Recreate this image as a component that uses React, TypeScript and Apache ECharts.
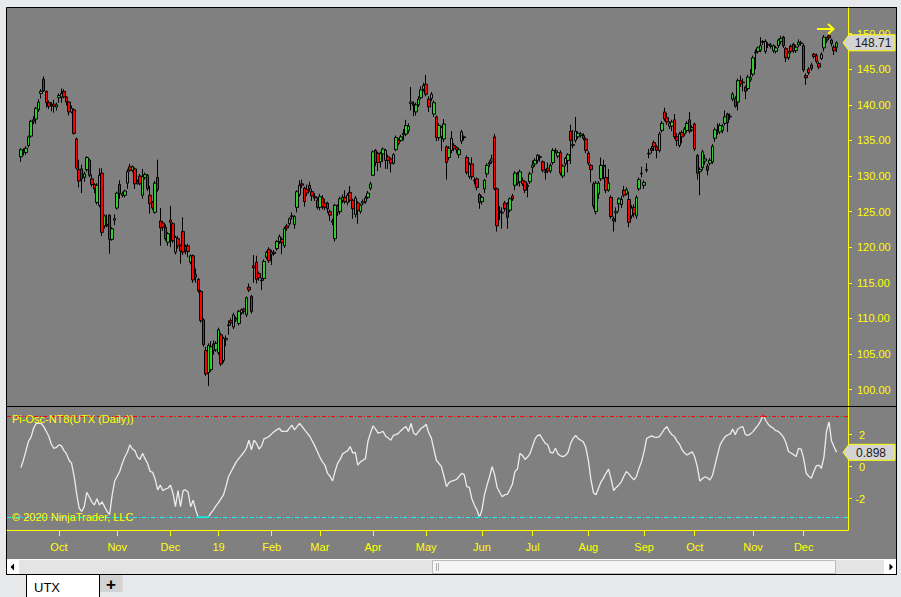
import React, { useEffect, useRef } from 'react';
import * as echarts from 'echarts';

const YELLOW = '#ffff00';
const FONT = 'Liberation Sans, Arial, sans-serif';

const HOLIDAYS = ['2018-11-22', '2018-12-05', '2018-12-25', '2019-01-01', '2019-01-21', '2019-02-18', '2019-04-19', '2019-05-27', '2019-07-04', '2019-09-02', '2019-11-28'];
const FIRST_DAY = '2018-09-10';
const LAST_DAY = '2019-12-19';
const MONTH_NAMES = ['Jan', 'Feb', 'Mar', 'Apr', 'May', 'Jun', 'Jul', 'Aug', 'Sep', 'Oct', 'Nov', 'Dec'];
const PRICE_TICKS = [100, 105, 110, 115, 120, 125, 130, 135, 140, 145, 150];
const OSC_TICKS = [-2, 0, 2];
const PI_LEVEL = 3.14159;
const INSTRUMENT = 'UTX';
const OSC_TITLE = 'Pi-Osc-NT8(UTX (Daily))';
const COPYRIGHT = '© 2020 NinjaTrader, LLC';

// candles: [open, close, low, high]
const sep2018 = [
  [132.7, 133.7, 132.0, 133.9], [133.5, 133.3, 132.9, 133.9], [133.3, 133.9, 133.0, 134.2], [134.3, 135.5, 134.0, 135.7],
  [135.6, 137.7, 135.4, 137.9], [137.7, 137.9, 137.3, 138.4], [138.0, 139.5, 137.3, 139.7], [139.3, 140.4, 139.0, 140.8],
  [141.6, 141.9, 140.9, 142.2], [143.6, 142.0, 141.8, 144.0], [141.9, 140.3, 139.6, 142.0], [140.3, 139.8, 139.4, 140.6],
  [139.9, 140.0, 139.1, 140.4], [140.1, 139.8, 138.9, 140.7], [139.7, 140.0, 139.2, 140.3],
];
const oct2018 = [
  [141.0, 141.3, 140.3, 141.6], [141.1, 141.6, 140.3, 142.3], [141.9, 141.1, 140.9, 142.2], [141.1, 140.4, 139.9, 141.2],
  [140.4, 139.0, 138.5, 140.5], [139.0, 139.5, 138.8, 139.9], [139.3, 136.0, 135.8, 139.5], [135.2, 131.1, 130.9, 135.4],
  [130.9, 129.3, 128.4, 132.3], [131.0, 129.6, 127.6, 131.6], [129.8, 130.3, 129.2, 130.6], [130.9, 132.6, 130.6, 132.8],
  [132.2, 130.1, 129.8, 132.4], [129.6, 128.8, 128.5, 130.2], [128.8, 128.2, 127.6, 129.0], [126.3, 128.7, 126.0, 129.0],
  [125.9, 130.1, 125.6, 131.1], [130.4, 122.1, 121.6, 131.1], [123.0, 124.4, 122.6, 124.6], [123.2, 123.0, 122.8, 124.6],
  [124.5, 121.1, 119.1, 124.6], [121.1, 122.6, 120.9, 122.8], [123.8, 124.0, 123.1, 124.6],
];
const nov2018 = [
  [125.5, 127.6, 125.3, 127.8], [128.8, 127.5, 126.8, 129.4], [127.3, 127.5, 127.0, 127.8], [127.3, 127.9, 127.0, 128.1],
  [129.0, 130.6, 128.2, 131.0], [131.3, 130.8, 130.6, 131.7], [130.8, 131.3, 130.5, 131.5], [131.0, 128.9, 128.2, 131.2],
  [129.0, 129.2, 128.8, 129.5], [130.0, 128.9, 128.7, 130.3], [127.3, 129.9, 126.8, 131.0], [129.8, 130.2, 129.5, 130.5],
  [130.1, 128.2, 127.9, 130.3], [127.3, 126.1, 124.7, 128.6], [126.3, 125.5, 125.2, 126.5], [124.9, 129.0, 124.7, 129.3],
  [129.8, 128.1, 127.8, 132.3], [123.7, 122.7, 120.2, 125.5], [123.4, 122.8, 122.3, 123.7], [122.8, 121.2, 120.9, 123.2],
  [120.7, 121.9, 120.2, 122.1],
];
const dec2018 = [
  [123.8, 123.5, 120.0, 125.8], [123.3, 120.9, 120.6, 123.5], [119.3, 121.4, 119.0, 121.6], [121.2, 120.2, 119.8, 121.6],
  [120.2, 119.5, 117.7, 120.4], [122.2, 119.3, 118.9, 124.2], [120.1, 119.6, 119.0, 120.4], [120.2, 119.4, 118.6, 120.5],
  [117.9, 118.8, 117.6, 119.0], [118.8, 115.4, 115.0, 119.0], [116.2, 115.8, 115.0, 117.0], [115.5, 113.9, 113.6, 115.7],
  [113.8, 109.7, 109.4, 114.0], [109.8, 106.3, 106.0, 110.0], [105.5, 102.2, 101.9, 106.0], [102.4, 106.2, 100.5, 106.5],
  [102.8, 106.0, 102.5, 106.8], [106.4, 105.5, 104.9, 106.9], [105.6, 106.5, 105.3, 106.8],
];
const jan2019 = [
  [105.2, 108.4, 104.9, 108.7], [107.7, 103.6, 103.3, 108.0], [104.1, 107.2, 103.8, 107.4], [107.0, 107.2, 106.1, 107.6],
  [109.0, 109.1, 107.7, 109.7], [109.7, 109.4, 109.0, 110.0], [108.8, 110.5, 108.5, 110.8], [109.8, 110.0, 109.5, 110.3],
  [109.3, 111.0, 109.0, 111.2], [110.8, 111.2, 110.5, 111.4], [111.3, 111.0, 110.6, 111.5], [110.5, 112.9, 110.2, 113.1],
  [114.4, 114.0, 113.7, 114.9], [113.1, 111.0, 110.7, 113.3], [117.4, 117.1, 115.0, 118.9], [117.9, 115.5, 114.9, 118.8],
  [116.3, 115.7, 115.3, 116.6], [115.4, 115.3, 114.0, 115.7], [115.6, 118.0, 115.3, 118.3], [118.6, 119.3, 118.3, 119.5],
  [119.7, 118.1, 117.8, 120.0],
];
const feb2019 = [
  [119.0, 119.3, 117.5, 119.6], [119.3, 119.1, 118.8, 119.6], [119.8, 120.8, 119.5, 121.0], [120.8, 121.5, 120.5, 121.8],
  [121.1, 120.6, 119.0, 121.4], [120.2, 122.6, 119.9, 122.9], [123.0, 122.7, 122.3, 123.3], [123.3, 124.0, 123.0, 124.2],
  [124.3, 124.4, 123.9, 124.9], [123.2, 124.3, 122.6, 124.5], [125.6, 127.8, 124.9, 128.0], [127.4, 128.7, 127.1, 129.4],
  [128.9, 128.7, 128.3, 129.5], [128.3, 126.4, 125.7, 128.5], [128.1, 127.6, 127.2, 128.8], [128.7, 128.2, 127.8, 129.2],
  [127.8, 127.2, 126.5, 128.2], [127.1, 126.9, 126.5, 127.6], [126.6, 125.6, 125.3, 127.0],
];
const mar2019 = [
  [125.6, 127.1, 125.2, 127.5], [126.9, 125.7, 125.3, 127.3], [126.2, 125.6, 125.2, 126.8], [126.2, 125.4, 124.8, 126.4],
  [125.0, 124.5, 123.7, 125.3], [123.7, 123.5, 123.1, 124.0], [121.2, 125.9, 120.8, 126.1], [125.8, 124.9, 124.4, 126.0],
  [125.0, 126.8, 124.6, 127.1], [126.6, 127.0, 126.2, 127.4], [127.0, 126.4, 126.1, 128.0], [126.3, 127.3, 125.9, 127.6],
  [127.7, 126.6, 126.3, 128.6], [126.6, 125.4, 124.0, 126.8], [124.6, 126.9, 124.2, 127.2], [126.2, 125.2, 123.3, 126.5],
  [125.0, 125.9, 124.7, 126.1], [126.2, 126.4, 125.9, 126.7], [126.4, 126.9, 126.1, 127.2], [127.0, 127.6, 126.8, 127.9],
  [128.3, 128.9, 128.0, 129.2],
];
const apr2019 = [
  [130.1, 133.4, 130.0, 133.6], [133.6, 131.9, 131.4, 133.8], [133.2, 131.9, 130.7, 133.4], [132.0, 133.2, 131.2, 133.4],
  [133.1, 133.8, 132.0, 134.0], [132.2, 133.6, 131.0, 133.8], [132.7, 132.2, 131.0, 133.0], [132.4, 131.8, 130.5, 132.6],
  [131.8, 133.0, 131.6, 133.2], [133.7, 135.4, 133.5, 135.7], [135.1, 134.6, 134.3, 135.3], [135.0, 135.5, 134.8, 135.8],
  [135.8, 136.0, 135.0, 136.6], [135.9, 137.1, 135.6, 137.9], [136.4, 137.0, 136.0, 137.4], [140.2, 140.4, 139.2, 142.5],
  [140.1, 139.9, 138.4, 140.5], [139.0, 140.0, 138.5, 140.3], [140.0, 140.8, 139.7, 141.2], [141.0, 142.1, 140.8, 142.6],
  [142.2, 142.7, 141.9, 143.1],
];
const may2019 = [
  [142.9, 141.5, 141.2, 144.2], [140.8, 139.7, 139.0, 141.2], [140.9, 141.5, 140.5, 141.8], [138.7, 140.3, 138.3, 140.6],
  [138.3, 135.4, 134.9, 138.5], [135.4, 137.1, 135.0, 137.4], [135.6, 136.8, 133.5, 137.0], [135.2, 137.3, 134.8, 138.0],
  [134.1, 131.9, 129.5, 134.3], [132.6, 133.9, 132.2, 134.2], [133.6, 135.3, 133.2, 136.3], [134.3, 133.9, 133.5, 134.6],
  [134.0, 133.7, 133.2, 134.2], [133.0, 133.7, 132.5, 134.0], [134.9, 136.2, 134.5, 136.5], [135.5, 135.4, 135.0, 135.7],
  [132.6, 130.5, 130.2, 132.9], [129.9, 131.6, 129.6, 131.9], [131.7, 129.9, 129.5, 132.6], [129.4, 129.3, 128.8, 129.8],
  [129.6, 128.4, 128.0, 129.8], [127.4, 126.3, 125.4, 127.6],
];
const jun2019 = [
  [126.4, 127.0, 126.0, 127.3], [128.2, 129.4, 127.6, 129.6], [130.3, 131.5, 129.8, 131.8], [131.7, 131.9, 131.3, 132.2],
  [132.1, 132.4, 131.7, 133.0], [135.5, 128.2, 128.0, 135.9], [128.2, 123.0, 122.2, 128.4], [125.0, 125.1, 123.8, 125.8],
  [124.9, 124.8, 122.6, 125.6], [126.2, 125.4, 125.0, 126.5], [126.1, 124.2, 122.6, 126.3], [125.2, 126.8, 124.9, 127.0],
  [127.2, 126.8, 126.5, 127.5], [128.7, 130.4, 128.0, 130.7], [130.3, 129.0, 128.7, 130.6], [129.2, 130.6, 128.5, 130.9],
  [129.4, 128.9, 128.6, 129.8], [129.2, 128.0, 127.6, 129.4], [128.5, 128.7, 127.0, 129.0], [129.2, 130.3, 128.9, 130.6],
];
const jul2019 = [
  [131.2, 131.5, 130.4, 132.2], [131.7, 132.2, 131.3, 132.5], [132.2, 132.9, 131.8, 133.1], [132.7, 132.6, 132.0, 133.0],
  [132.0, 130.8, 130.5, 132.2], [130.6, 130.5, 129.5, 131.0], [131.1, 130.7, 130.4, 131.9], [130.7, 131.5, 130.4, 131.8],
  [131.9, 133.6, 131.6, 133.9], [133.6, 133.5, 133.2, 133.9], [132.8, 133.3, 132.5, 133.6], [133.3, 130.4, 130.1, 133.6],
  [130.0, 131.4, 129.7, 131.6], [131.7, 132.5, 131.4, 132.7], [132.2, 133.0, 130.5, 133.2], [136.3, 135.0, 131.7, 137.2],
  [134.4, 134.3, 133.9, 136.5], [135.0, 136.3, 134.7, 138.3], [135.5, 136.0, 135.2, 136.3], [135.7, 135.9, 135.4, 136.2],
  [135.7, 135.3, 135.0, 136.0], [135.2, 133.6, 133.2, 135.4],
];
const aug2019 = [
  [133.2, 131.8, 131.5, 133.5], [131.5, 130.9, 129.1, 131.7], [128.9, 125.8, 125.4, 129.2], [125.0, 129.0, 124.6, 129.3],
  [127.5, 129.0, 126.8, 129.3], [129.6, 131.5, 129.3, 132.6], [131.3, 131.5, 129.6, 132.3], [129.8, 128.0, 127.6, 131.6],
  [128.0, 129.0, 127.8, 131.0], [127.0, 124.3, 124.0, 127.3], [124.0, 123.7, 122.2, 124.3], [124.8, 125.0, 123.5, 125.6],
  [126.1, 126.8, 125.0, 127.0], [126.0, 126.7, 125.5, 127.2], [128.0, 127.3, 127.0, 128.6], [127.5, 128.1, 127.3, 128.4],
  [126.7, 123.5, 122.8, 127.8], [124.4, 125.5, 124.0, 125.9], [125.6, 124.7, 124.2, 126.0], [124.4, 127.0, 124.0, 127.3],
  [128.2, 129.5, 127.9, 129.8], [130.3, 130.4, 129.8, 131.3],
];
const sep2019 = [
  [128.7, 129.1, 128.2, 129.4], [130.8, 130.9, 130.5, 131.8], [133.1, 133.2, 132.5, 133.8], [133.9, 133.6, 133.2, 134.2],
  [134.7, 134.1, 133.5, 135.0], [134.1, 133.6, 132.5, 134.4], [133.6, 135.9, 133.3, 136.2], [136.4, 137.4, 136.1, 137.7],
  [139.0, 138.0, 137.7, 139.6], [138.2, 137.6, 137.2, 138.9], [137.0, 137.4, 136.6, 137.7], [137.0, 137.6, 136.3, 137.9],
  [137.9, 135.5, 135.2, 138.7], [135.5, 135.0, 134.2, 136.0], [134.3, 135.9, 134.0, 136.2], [136.1, 135.5, 134.6, 136.4],
  [135.9, 136.6, 135.6, 136.9], [136.4, 137.4, 136.1, 137.7], [137.9, 136.3, 136.0, 139.0], [136.5, 136.8, 136.2, 137.1],
];
const oct2019 = [
  [137.3, 133.8, 133.5, 137.5], [132.9, 130.4, 129.5, 133.1], [130.6, 130.9, 127.3, 131.2], [131.2, 133.4, 130.8, 133.7],
  [132.1, 132.4, 131.6, 133.0], [131.4, 130.8, 130.1, 131.7], [131.8, 132.2, 131.5, 132.5], [132.0, 134.2, 131.7, 134.5],
  [135.3, 136.5, 134.8, 136.8], [136.2, 136.4, 135.8, 137.4], [136.2, 137.1, 135.9, 137.4], [136.4, 137.0, 136.0, 137.3],
  [137.4, 138.3, 137.1, 139.2], [138.7, 137.5, 136.2, 138.9], [138.3, 138.4, 137.9, 138.8], [140.8, 141.5, 140.5, 141.8],
  [140.9, 139.8, 139.6, 141.2], [140.4, 143.4, 139.2, 143.7], [143.4, 142.9, 142.5, 144.1], [143.2, 143.1, 141.9, 143.7],
  [142.5, 141.9, 140.8, 142.7], [142.3, 143.9, 142.0, 144.2], [143.5, 143.8, 143.2, 145.0],
];
const nov2019 = [
  [144.3, 146.6, 144.0, 146.9], [147.3, 147.4, 145.0, 147.8], [147.5, 148.0, 147.2, 148.2], [147.7, 148.3, 147.4, 149.5],
  [148.8, 148.9, 148.4, 149.1], [147.5, 148.9, 147.2, 149.2], [148.5, 148.4, 148.0, 148.8], [148.2, 148.4, 147.9, 148.7],
  [147.6, 148.3, 147.3, 148.5], [147.5, 148.0, 147.2, 148.3], [148.3, 149.1, 148.0, 149.3], [148.9, 149.3, 148.5, 149.7],
  [149.5, 148.3, 148.0, 149.7], [147.9, 146.6, 146.0, 148.1], [146.6, 147.3, 146.3, 147.6], [148.2, 147.5, 147.2, 148.5],
  [148.5, 147.6, 147.3, 148.7], [147.6, 148.1, 147.3, 148.4], [148.4, 148.8, 148.1, 149.2], [148.6, 148.7, 148.3, 149.0],
];
const dec2019 = [
  [148.3, 144.9, 144.6, 148.6], [144.1, 143.8, 142.8, 144.4], [145.0, 144.5, 144.2, 145.3], [145.6, 145.1, 144.8, 145.9],
  [147.1, 146.8, 146.5, 147.3], [146.9, 146.1, 145.8, 147.2], [145.8, 145.3, 145.0, 146.1], [146.5, 147.1, 146.3, 147.4],
  [148.0, 149.5, 147.5, 149.8], [149.0, 149.2, 148.7, 149.5], [149.7, 149.4, 149.1, 150.0], [149.1, 148.6, 148.2, 149.3],
  [148.1, 147.6, 147.0, 148.4], [148.1, 148.71, 147.4, 148.9],
];

// Pi oscillator values
const oscSep2018 = [-0.06, 0.42, 1.0, 1.6, 1.85, 2.4, 2.7, 2.7, 2.7, 2.5, 2.2, 1.9, 1.4, 1.15, 1.2];
const oscOct2018 = [1.36, 1.3, 1.0, 0.8, 0.4, 0.2, -0.6, -1.7, -2.6, -2.8, -2.5, -1.6, -1.9, -2.2, -2.4, -2.0, -2.4, -2.2, -2.5, -2.8, -3.0, -1.8, -0.9];
const oscNov2018 = [-0.6, -0.3, 0.2, 0.6, 0.9, 1.36, 1.1, 1.0, 0.6, 0.45, 0.83, 0.5, 0.2, -0.3, -0.35, -0.8, -1.45, -1.15, -1.5, -1.4, -1.35];
const oscDec2018 = [-1.15, -1.65, -2.5, -1.5, -2.5, -1.5, -1.45, -1.6, -2.5, -2.1, -2.7, -3.16, -3.16, -3.16, -3.16, -3.16, -2.9, -2.7, -2.45];
const oscJan2019 = [-2.25, -2.0, -1.75, -1.2, -0.6, -0.3, 0.0, 0.3, 0.5, 0.7, 0.9, 1.15, 1.65, 1.05, 1.65, 1.45, 1.1, 1.3, 1.75, 1.8, 1.9];
const oscFeb2019 = [2.05, 2.2, 2.3, 2.4, 2.2, 2.2, 2.2, 2.4, 2.6, 2.3, 2.5, 2.7, 2.5, 2.3, 2.1, 1.9, 1.6, 1.3, 0.95];
const oscMar2019 = [0.6, 0.3, 0.1, -0.4, -0.6, -0.9, -0.3, 0.2, 0.45, 0.8, 0.9, 1.0, 1.25, 0.85, 0.9, 0.1, 0.3, 0.4, 0.5, 1.6, 2.1];
const oscApr2019 = [2.55, 2.35, 2.1, 2.15, 2.2, 1.9, 1.8, 1.65, 1.95, 2.0, 2.08, 2.25, 2.4, 2.5, 2.2, 2.7, 2.1, 1.98, 2.2, 2.4, 2.5];
const oscMay2019 = [2.65, 2.1, 1.8, 1.1, 0.4, 0.2, 0.0, -0.6, -1.25, -1.0, -0.9, -0.85, -0.8, -0.6, -0.42, -0.5, -1.25, -1.3, -2.0, -2.4, -2.7, -3.16];
const oscJun2019 = [-2.7, -1.75, -1.15, -0.63, 0.0, -0.5, -1.3, -1.6, -1.88, -1.75, -1.73, -1.45, -1.1, -0.31, -0.15, 0.83, 0.7, 0.45, 0.6, 0.83];
const oscJul2019 = [1.3, 1.75, 1.95, 1.98, 1.7, 1.46, 1.35, 0.9, 0.85, 1.15, 0.8, 0.68, 0.63, 0.7, 0.9, 1.46, 1.77, 1.95, 1.75, 1.65, 1.56, 1.2];
const oscAug2019 = [0.4, -0.8, -1.63, -1.75, -1.35, -0.95, -0.7, -0.4, -0.15, -0.8, -1.5, -1.3, -1.15, -0.95, -0.6, -0.3, -0.45, -0.65, -0.83, -0.6, -0.1, 0.31];
const oscSep2019 = [0.95, 1.75, 1.85, 1.92, 1.85, 1.83, 1.88, 2.1, 2.35, 2.5, 2.2, 2.0, 1.88, 1.6, 1.4, 1.05, 0.85, 0.73, 0.83, 0.93];
const oscOct2019 = [0.6, 0.0, -0.9, -0.75, -0.63, -0.7, -0.83, -0.55, 0.1, 0.75, 1.36, 1.65, 1.88, 1.98, 2.05, 2.35, 2.0, 2.35, 2.45, 2.5, 2.0, 1.95, 2.05];
const oscNov2019 = [2.19, 2.4, 2.6, 2.85, 3.25, 2.9, 2.65, 2.5, 2.4, 2.25, 2.2, 2.05, 1.85, 1.5, 0.95, 0.85, 0.75, 0.63, 1.15, 1.1];
const oscDec2019 = [0.5, -0.4, -0.6, -0.73, -0.3, 0.05, 0.1, -0.1, 0.6, 2.2, 2.8, 1.6, 1.25, 0.898];

const CANDLES = [
  ...sep2018, ...oct2018, ...nov2018, ...dec2018, ...jan2019, ...feb2019, ...mar2019, ...apr2019,
  ...may2019, ...jun2019, ...jul2019, ...aug2019, ...sep2019, ...oct2019, ...nov2019, ...dec2019,
];
const OSC = [
  ...oscSep2018, ...oscOct2018, ...oscNov2018, ...oscDec2018, ...oscJan2019, ...oscFeb2019, ...oscMar2019, ...oscApr2019,
  ...oscMay2019, ...oscJun2019, ...oscJul2019, ...oscAug2019, ...oscSep2019, ...oscOct2019, ...oscNov2019, ...oscDec2019,
];

function buildTradingDays(start: string, end: string, holidays: string[]): string[] {
  const out: string[] = [];
  const d = new Date(start + 'T00:00:00Z');
  const e = new Date(end + 'T00:00:00Z');
  while (d.getTime() <= e.getTime()) {
    const wd = d.getUTCDay();
    const iso = d.toISOString().slice(0, 10);
    if (wd !== 0 && wd !== 6 && holidays.indexOf(iso) < 0) out.push(iso);
    d.setUTCDate(d.getUTCDate() + 1);
  }
  return out;
}

const PAD_BEFORE = 5;
const PAD_AFTER = 4;

export default function App() {
  const ref = useRef<HTMLDivElement>(null);

  useEffect(() => {
    document.body.style.margin = '0';
    if (!ref.current) return;
    const chart = echarts.init(ref.current, null, { renderer: 'svg', width: 901, height: 597 });

    const days = buildTradingDays(FIRST_DAY, LAST_DAY, HOLIDAYS);
    const before = new Array(PAD_BEFORE).fill('');
    const after = new Array(PAD_AFTER).fill('');
    const cats = [...before, ...days, ...after];
    const candleData = [...before.map(() => '-'), ...CANDLES, ...after.map(() => '-')];
    const oscData = [...before.map(() => '-'), ...OSC, ...after.map(() => '-')];

    const isMonthStart = (index: number) => {
      const v = cats[index];
      const p = cats[index - 1];
      return !!v && !!p && v.slice(5, 7) !== p.slice(5, 7);
    };
    const monthLabel = (value: string) => {
      const m = parseInt(value.slice(5, 7), 10);
      return m === 1 ? value.slice(2, 4) : MONTH_NAMES[m - 1];
    };

    const gridLeft = 7;
    const gridRight = 901 - 848;

    chart.setOption({
      animation: false,
      backgroundColor: 'transparent',
      textStyle: { fontFamily: FONT },
      grid: [
        { left: gridLeft, right: gridRight, top: 8, height: 398 },
        { left: gridLeft, right: gridRight, top: 407, height: 123 },
      ],
      xAxis: [
        {
          type: 'category', gridIndex: 0, data: cats, boundaryGap: true,
          axisLine: { show: false }, axisTick: { show: false }, axisLabel: { show: false }, splitLine: { show: false },
        },
        {
          type: 'category', gridIndex: 1, data: cats, boundaryGap: true, position: 'bottom',
          axisLine: { show: true, onZero: false, lineStyle: { color: YELLOW, width: 1 } },
          axisTick: { show: true, alignWithLabel: true, interval: (i: number) => isMonthStart(i), length: 6, lineStyle: { color: YELLOW } },
          axisLabel: {
            show: true, interval: (i: number) => isMonthStart(i), formatter: (v: string) => monthLabel(v),
            color: YELLOW, fontSize: 11, fontFamily: FONT, margin: 11,
          },
          splitLine: { show: false },
        },
      ],
      yAxis: [
        {
          type: 'value', gridIndex: 0, position: 'right', min: 97.7, max: 153.6, scale: true,
          axisLine: { show: true, lineStyle: { color: YELLOW, width: 1 } },
          axisTick: { show: true, length: 4, lineStyle: { color: YELLOW }, customValues: PRICE_TICKS },
          axisLabel: {
            show: true, customValues: PRICE_TICKS, formatter: (v: number) => v.toFixed(2),
            color: YELLOW, fontSize: 11, fontFamily: FONT, margin: 9,
          },
          splitLine: { show: false },
        },
        {
          type: 'value', gridIndex: 1, position: 'right', min: -3.96, max: 3.73,
          axisLine: { show: true, lineStyle: { color: YELLOW, width: 1 } },
          axisTick: { show: true, length: 4, lineStyle: { color: YELLOW }, customValues: OSC_TICKS },
          axisLabel: {
            show: true, customValues: OSC_TICKS, formatter: (v: number) => String(v),
            color: YELLOW, fontSize: 11, fontFamily: FONT, margin: 17, align: 'right',
          },
          splitLine: { show: false },
        },
      ],
      visualMap: {
        type: 'piecewise', show: false, seriesIndex: 1, dimension: 1,
        pieces: [
          { lt: -3.1, color: '#00ffff' },
          { gte: -3.1, lte: 3.1, color: '#ececec' },
          { gt: 3.1, color: '#ff1010' },
        ],
      },
      series: [
        {
          type: 'candlestick', xAxisIndex: 0, yAxisIndex: 0, data: candleData, barWidth: 3,
          itemStyle: {
            color: '#32cd32', color0: '#ff0000', borderColor: '#000000', borderColor0: '#000000',
            borderColorDoji: '#000000', borderWidth: 1,
          },
        },
        {
          type: 'line', xAxisIndex: 1, yAxisIndex: 1, data: oscData, symbol: 'none',
          lineStyle: { width: 1.3 },
          markLine: {
            silent: true, symbol: ['none', 'none'], label: { show: false },
            data: [
              { yAxis: PI_LEVEL, lineStyle: { color: '#ff0000', type: [4, 2, 1, 2], width: 1 } },
              { yAxis: -PI_LEVEL, lineStyle: { color: '#00ffff', type: [4, 2, 1, 2], width: 1 } },
            ],
          },
        },
      ],
    });

    const lastClose = CANDLES[CANDLES.length - 1][1];
    const lastOsc = OSC[OSC.length - 1];
    const yP = chart.convertToPixel({ yAxisIndex: 0 }, lastClose) as number;
    const yO = chart.convertToPixel({ yAxisIndex: 1 }, lastOsc) as number;
    const marker = (y: number) => [[843, y], [849, y - 8], [895, y - 8], [895, y + 8], [849, y + 8]];

    chart.setOption({
      graphic: [
        { type: 'rect', z: -10, silent: true, shape: { x: 6.5, y: 7.5, width: 890, height: 567 }, style: { fill: '#808080', stroke: '#000000', lineWidth: 1 } },
        { type: 'line', z: 50, silent: true, shape: { x1: 7, y1: 406.5, x2: 896, y2: 406.5 }, style: { stroke: '#000000', lineWidth: 1 } },
        // scroll bar
        { type: 'rect', z: 50, silent: true, shape: { x: 7, y: 559, width: 889, height: 15 }, style: { fill: '#e4e4e4' } },
        { type: 'line', z: 51, silent: true, shape: { x1: 7, y1: 559.5, x2: 896, y2: 559.5 }, style: { stroke: '#fbfbfb', lineWidth: 1 } },
        { type: 'rect', z: 51, silent: true, shape: { x: 7, y: 560, width: 12, height: 14 }, style: { fill: '#ffffff' } },
        { type: 'polygon', z: 52, silent: true, shape: { points: [[10.5, 567], [14, 563.5], [14, 570.5]] }, style: { fill: '#000000' } },
        { type: 'rect', z: 51, silent: true, shape: { x: 432.5, y: 560.5, width: 403, height: 13 }, style: { fill: '#f5f5f5', stroke: '#bcbcbc', lineWidth: 1 } },
        { type: 'line', z: 52, silent: true, shape: { x1: 436.5, y1: 563, x2: 436.5, y2: 571 }, style: { stroke: '#b0b0b0', lineWidth: 1 } },
        { type: 'line', z: 52, silent: true, shape: { x1: 438.5, y1: 563, x2: 438.5, y2: 571 }, style: { stroke: '#b0b0b0', lineWidth: 1 } },
        { type: 'rect', z: 51, silent: true, shape: { x: 884, y: 560, width: 12, height: 14 }, style: { fill: '#ffffff' } },
        { type: 'polygon', z: 52, silent: true, shape: { points: [[893, 567], [889.5, 563.5], [889.5, 570.5]] }, style: { fill: '#000000' } },
        { type: 'line', z: 53, silent: true, shape: { x1: 6, y1: 574.5, x2: 897, y2: 574.5 }, style: { stroke: '#000000', lineWidth: 1 } },
        { type: 'line', z: 53, silent: true, shape: { x1: 896.5, y1: 7, x2: 896.5, y2: 575 }, style: { stroke: '#000000', lineWidth: 1 } },
        // tab
        { type: 'rect', z: 50, silent: true, shape: { x: 27, y: 575, width: 72, height: 22 }, style: { fill: '#ffffff' } },
        { type: 'line', z: 51, silent: true, shape: { x1: 26.5, y1: 575, x2: 26.5, y2: 597 }, style: { stroke: '#000000', lineWidth: 1 } },
        { type: 'line', z: 51, silent: true, shape: { x1: 99.5, y1: 575, x2: 99.5, y2: 597 }, style: { stroke: '#000000', lineWidth: 1 } },
        { type: 'text', z: 52, silent: true, x: 34, y: 587, style: { text: INSTRUMENT, fill: '#000000', font: '13px Liberation Sans, Arial, sans-serif', verticalAlign: 'middle' } },
        { type: 'rect', z: 50, silent: true, shape: { x: 100, y: 575, width: 22.5, height: 17 }, style: { fill: '#d3d3d3' } },
        { type: 'text', z: 52, silent: true, x: 111, y: 584, style: { text: '+', fill: '#000000', font: 'bold 17px Liberation Sans, Arial, sans-serif', align: 'center', verticalAlign: 'middle' } },
        // oscillator panel texts
        { type: 'text', z: 52, silent: true, x: 12, y: 418.5, style: { text: OSC_TITLE, fill: YELLOW, font: '11px Liberation Sans, Arial, sans-serif', verticalAlign: 'middle' } },
        { type: 'text', z: 52, silent: true, x: 12, y: 517, style: { text: COPYRIGHT, fill: YELLOW, font: '11px Liberation Sans, Arial, sans-serif', verticalAlign: 'middle' } },
        // drawn arrow
        { type: 'polyline', z: 52, silent: true, shape: { points: [[817, 29], [833, 29]] }, style: { stroke: YELLOW, lineWidth: 2 } },
        { type: 'polyline', z: 52, silent: true, shape: { points: [[828, 24], [833.5, 29], [828, 34]] }, style: { stroke: YELLOW, lineWidth: 2, fill: null } },
        // last value markers
        { type: 'polygon', z: 60, silent: true, shape: { points: marker(yP) }, style: { fill: '#d4d4d4', stroke: YELLOW, lineWidth: 1 } },
        { type: 'text', z: 61, silent: true, x: 873, y: yP + 0.5, style: { text: lastClose.toFixed(2), fill: '#1a1a1a', font: '12px Liberation Sans, Arial, sans-serif', align: 'center', verticalAlign: 'middle' } },
        { type: 'polygon', z: 60, silent: true, shape: { points: marker(yO) }, style: { fill: '#d4d4d4', stroke: YELLOW, lineWidth: 1 } },
        { type: 'text', z: 61, silent: true, x: 871, y: yO + 0.5, style: { text: lastOsc.toFixed(3), fill: '#1a1a1a', font: '12px Liberation Sans, Arial, sans-serif', align: 'center', verticalAlign: 'middle' } },
      ],
    });

    return () => chart.dispose();
  }, []);

  return (
    <div
      ref={ref}
      style={{ position: 'absolute', left: 0, top: 0, width: 901, height: 597, background: '#e8e9ea' }}
    />
  );
}
